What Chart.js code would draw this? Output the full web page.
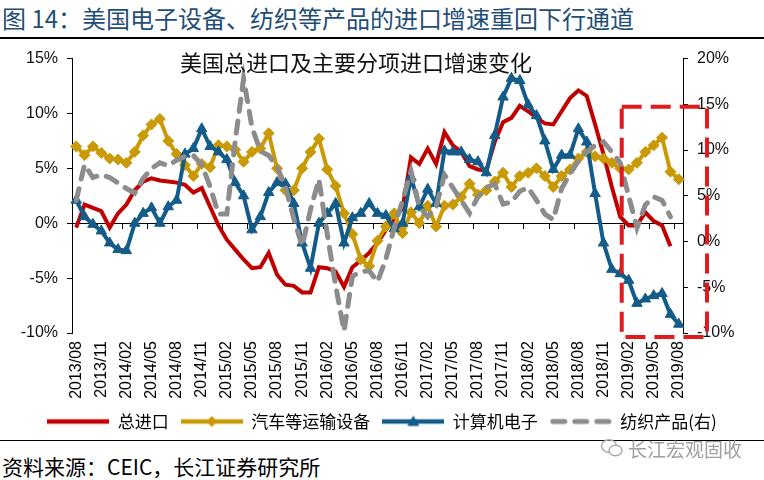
<!DOCTYPE html>
<html>
<head>
<meta charset="utf-8">
<script src="https://cdn.jsdelivr.net/npm/chart.js@4.4.1/dist/chart.umd.min.js"></script>
<style>
html,body{margin:0;padding:0;background:#fff;}
#wrap{position:relative;width:764px;height:480px;overflow:hidden;background:#fff;}
#title{position:absolute;left:2px;top:1px;font-size:24px;line-height:34px;color:#1f4e79;font-family:"Noto Sans CJK SC","Liberation Sans",sans-serif;white-space:nowrap;}
#rule1{position:absolute;left:0;top:37px;width:764px;height:2px;background:#000;}
#box{position:absolute;left:0;top:40px;width:764px;height:400px;}
#sub{position:absolute;left:180px;top:47px;font-size:22px;line-height:28px;color:#111;font-family:"Noto Sans CJK SC",sans-serif;white-space:nowrap;}
#rule2{position:absolute;left:0;top:440px;width:764px;height:1px;background:#000;}
#src{position:absolute;left:2px;top:451px;font-size:21px;line-height:30px;color:#000;font-family:"Noto Sans CJK SC","Liberation Sans",sans-serif;white-space:nowrap;}
#wm{position:absolute;left:600px;top:435px;height:26px;display:flex;align-items:center;color:#a0a0a0;font-size:19px;font-family:"Noto Sans CJK SC",sans-serif;white-space:nowrap;}
#wm svg{margin-right:4px;}
</style>
</head>
<body>
<div id="wrap">
  <div id="title">图 14：美国电子设备、纺织等产品的进口增速重回下行通道</div>
  <div id="rule1"></div>
  <div id="box"><canvas id="c" width="764" height="400"></canvas></div>
  <div id="sub">美国总进口及主要分项进口增速变化</div>
  <div id="rule2"></div>
  <div id="src">资料来源：CEIC，长江证券研究所</div>
  <div id="wm"><svg width="24" height="22" viewBox="0 0 24 22"><ellipse cx="9" cy="9" rx="7.5" ry="6.3" fill="none" stroke="#a8a8a8" stroke-width="1.4"/><ellipse cx="15.5" cy="13.5" rx="6.5" ry="5.3" fill="#fff" stroke="#a8a8a8" stroke-width="1.4"/></svg>长江宏观固收</div>
</div>
<script>
// ---- data ----
const monthLabels = [
  '2013/08','2013/09','2013/10','2013/11','2013/12',
  '2014/01','2014/02','2014/03','2014/04','2014/05','2014/06','2014/07','2014/08','2014/09','2014/10','2014/11','2014/12',
  '2015/01','2015/02','2015/03','2015/04','2015/05','2015/06','2015/07','2015/08','2015/09','2015/10','2015/11','2015/12',
  '2016/01','2016/02','2016/03','2016/04','2016/05','2016/06','2016/07','2016/08','2016/09','2016/10','2016/11','2016/12',
  '2017/01','2017/02','2017/03','2017/04','2017/05','2017/06','2017/07','2017/08','2017/09','2017/10','2017/11','2017/12',
  '2018/01','2018/02','2018/03','2018/04','2018/05','2018/06','2018/07','2018/08','2018/09','2018/10','2018/11','2018/12',
  '2019/01','2019/02','2019/03','2019/04','2019/05','2019/06','2019/07','2019/08'
];
// 总进口 (left axis, %)
const totalImports = [
  -0.4, 1.7, 1.4, 1.1, -0.4, 0.9, 1.7, 3.0, 3.8, 4.1,
  3.9, 3.8, 3.7, 3.5, 2.8, 3.2, 1.5, -0.2, -1.5, -2.4,
  -3.3, -4.1, -4.0, -2.7, -4.7, -5.6, -5.7, -6.3, -6.3, -4.0,
  -4.1, -4.4, -5.8, -4.0, -3.4, -2.7, -1.8, -0.6, 0.4, 1.4,
  6.0, 5.4, 6.8, 5.4, 8.3, 7.1, 6.5, 5.2, 4.9, 4.8,
  7.4, 9.2, 9.6, 10.7, 10.2, 9.6, 9.1, 9.0, 10.2, 11.4,
  12.1, 11.6, 9.0, 6.3, 3.3, 0.6, -0.2, -0.2, 1.0, 0.2,
  -0.2, -2.1, null
];
// 汽车等运输设备 (left axis, %)
const autosTransport = [
  7.0, 6.2, 7.0, 6.4, 5.9, 5.8, 5.5, 6.5, 8.0, 9.0,
  9.5, 7.5, 6.3, 5.3, 4.3, 5.4, 5.1, 7.1, 7.0, 6.7,
  5.6, 6.5, 6.8, 8.2, 5.0, 3.0, 3.0, 5.0, 6.5, 7.7,
  4.9, 3.4, 0.9, -1.0, -3.3, -3.9, -1.6, -0.3, 0.9, -0.9,
  1.0, 0.0, 1.6, -0.3, 1.6, 1.7, 2.4, 3.6, 2.6, 3.0,
  3.8, 4.6, 3.3, 4.3, 4.6, 5.0, 4.3, 3.3, 4.3, 4.9,
  5.9, 6.5, 6.1, 5.9, 5.5, 5.0, 4.9, 5.5, 6.5, 7.1,
  7.8, 4.7, 4.0
];
// 计算机电子 (left axis, %)
const computersElectronics = [
  2.1, 0.6, -0.1, -0.7, -1.8, -2.4, -2.5, 0.0, 0.9, 1.4,
  0.0, 1.5, 2.1, 6.3, 6.8, 8.6, 7.0, 6.5, 5.8, 3.7,
  2.5, -0.6, 0.6, 2.8, 3.7, 3.6, 1.8, -1.8, -4.1, 0.0,
  0.9, 1.8, -1.8, 0.5, 0.9, 1.8, 0.9, 0.7, -0.5, 0.0,
  4.2, 1.5, 3.1, 1.8, 6.6, 6.5, 6.5, 5.8, 5.6, 4.6,
  8.0, 11.5, 13.2, 13.0, 10.8, 9.8, 7.5, 4.9, 6.2, 6.2,
  8.6, 7.4, 2.7, -1.8, -4.2, -4.6, -5.2, -7.3, -6.9, -6.6,
  -6.4, -8.3, -9.2
];
// 纺织产品 (right axis, %)
const textilesRight = [
  4.5, 8.4, 7.0, 7.3, 7.0, 6.4, 5.8, 5.3, 6.9, 8.0,
  8.6, 8.3, 8.9, 9.3, 9.4, 8.4, 6.0, 3.0, 3.0, 11.0,
  17.8, 12.5, 9.9, 9.4, 8.2, 6.0, 2.5, -0.5, 3.5, 6.8,
  0.8, -4.8, -9.8, -3.8, -3.3, -3.2, -4.4, -1.9, 1.5, 4.5,
  7.7, 3.8, 2.7, 3.8, 7.3, 5.9, 4.5, 3.1, 4.9, 5.9,
  6.3, 4.1, 4.3, 5.5, 5.9, 4.5, 3.0, 2.4, 5.8, 7.4,
  8.8, 9.8, 10.5, 10.9, 9.8, 8.6, 5.0, 1.5, 4.0, 4.9,
  4.5, 2.7, null
];
const seriesNames = ['总进口', '汽车等运输设备', '计算机电子', '纺织产品(右)'];
const leftRange = [-10, 15];
const rightRange = [-10, 20];
const tickStep = 5;
const labelEvery = 3;

// ---- styles ----
const RED = '#c00000', GOLD = '#c99a06', BLUE = '#135c8a', GRAY = '#8c8c8c';
const FONT = '"Liberation Sans", "Noto Sans CJK SC", sans-serif';
const CJK = '"Noto Sans CJK SC", "Liberation Sans", sans-serif';

function legendIcon(color, width, dash, marker) {
  const c = document.createElement('canvas');
  c.width = 62; c.height = 14;
  const g = c.getContext('2d');
  g.strokeStyle = color; g.lineWidth = width;
  g.beginPath();
  if (dash) { g.setLineDash(dash); g.lineCap = 'round'; g.moveTo(3, 7); g.lineTo(60, 7); }
  else { g.moveTo(0, 7); g.lineTo(62, 7); }
  g.stroke();
  g.setLineDash([]);
  g.fillStyle = color;
  if (marker === 'diamond') {
    g.beginPath(); g.moveTo(31, 1.5); g.lineTo(36.5, 7); g.lineTo(31, 12.5); g.lineTo(25.5, 7); g.closePath(); g.fill();
  } else if (marker === 'triangle') {
    g.beginPath(); g.moveTo(31, 1); g.lineTo(37, 11.5); g.lineTo(25, 11.5); g.closePath(); g.fill();
  }
  return c;
}
const icons = [
  legendIcon(RED, 4.5, null, null),
  legendIcon(GOLD, 4.5, null, 'diamond'),
  legendIcon(BLUE, 4.5, null, 'triangle'),
  legendIcon(GRAY, 5, [12, 10], null)
];

const focusBox = {
  id: 'focusBox',
  afterDraw(chart) {
    const {ctx, chartArea, scales} = chart;
    const left = scales.x.getPixelForValue(65) + 1.5;
    const top = scales.y1.getPixelForValue(15) + 2.5;
    const right = chartArea.right + 24;
    const bottom = chartArea.bottom + 4;
    ctx.save();
    ctx.strokeStyle = '#e31a1c';
    ctx.lineWidth = 4;
    ctx.setLineDash([20, 9]);
    ctx.strokeRect(left, top, right - left, bottom - top);
    ctx.restore();
  }
};

new Chart(document.getElementById('c'), {
  type: 'line',
  data: {
    labels: monthLabels,
    datasets: [
      {label: seriesNames[0], data: totalImports, yAxisID: 'y', borderColor: RED, backgroundColor: RED,
       borderWidth: 4, pointRadius: 0, tension: 0, order: 4},
      {label: seriesNames[1], data: autosTransport, yAxisID: 'y', borderColor: GOLD, backgroundColor: GOLD,
       borderWidth: 4, pointStyle: 'rectRot', pointRadius: 5.5, pointBorderWidth: 1,
       pointBackgroundColor: GOLD, pointBorderColor: GOLD, tension: 0, order: 3},
      {label: seriesNames[2], data: computersElectronics, yAxisID: 'y', borderColor: BLUE, backgroundColor: BLUE,
       borderWidth: 4, pointStyle: 'triangle', pointRadius: 6, pointBorderWidth: 1,
       pointBackgroundColor: BLUE, pointBorderColor: BLUE, tension: 0, order: 2},
      {label: seriesNames[3], data: textilesRight, yAxisID: 'y1', borderColor: GRAY, backgroundColor: GRAY,
       borderWidth: 5, borderDash: [12, 10], borderCapStyle: 'round', pointRadius: 0, tension: 0, order: 1}
    ]
  },
  options: {
    responsive: false,
    animation: false,
    layout: {padding: {top: 11, left: 0, right: 0, bottom: 0}},
    plugins: {
      tooltip: {enabled: false},
      title: {display: false},
      legend: {
        position: 'bottom',
        labels: {
          usePointStyle: true,
          pointStyleWidth: 62,
          padding: 12,
          color: '#000',
          font: {size: 17, family: CJK},
          generateLabels: (chart) => chart.data.datasets.map((ds, i) => ({
            text: ds.label, pointStyle: icons[i], fillStyle: ds.borderColor,
            strokeStyle: ds.borderColor, lineWidth: 0, hidden: false,
            datasetIndex: i, fontColor: '#000'
          }))
        }
      }
    },
    scales: {
      x: {
        type: 'category', position: 'bottom', offset: true,
        grid: {display: false, drawTicks: false},
        border: {display: false},
        ticks: {
          autoSkip: false, minRotation: 90, maxRotation: 90, padding: 8,
          color: '#000', font: {size: 16, family: FONT},
          callback: (v, i) => (i % labelEvery === 0 ? monthLabels[i] : '')
        },
        afterFit: (s) => { s.height = 68; }
      },
      x2: {
        type: 'category', position: {y: 0}, offset: true,
        grid: {
          offset: true, drawOnChartArea: false, drawTicks: true, tickLength: 5, lineWidth: 1,
          color: (c) => (c.index % labelEvery === 0 ? '#000' : 'rgba(0,0,0,0)')
        },
        border: {display: true, color: '#000', width: 1},
        ticks: {display: false}
      },
      y: {
        position: 'left', min: leftRange[0], max: leftRange[1],
        ticks: {stepSize: tickStep, padding: 9, color: '#111', font: {size: 16, family: FONT},
                callback: (v) => v + '%'},
        grid: {drawOnChartArea: false, drawTicks: true, tickLength: 5, color: '#000'},
        border: {display: true, color: '#000', width: 1},
        afterFit: (s) => { s.width = 72; }
      },
      y1: {
        position: 'right', min: rightRange[0], max: rightRange[1],
        ticks: {stepSize: tickStep, padding: 9, color: '#111', font: {size: 16, family: FONT},
                callback: (v) => v + '%'},
        grid: {drawOnChartArea: false, drawTicks: true, tickLength: 5, color: '#000'},
        border: {display: true, color: '#000', width: 1},
        afterFit: (s) => { s.width = 81; }
      }
    }
  },
  plugins: [focusBox]
});
</script>
</body>
</html>
